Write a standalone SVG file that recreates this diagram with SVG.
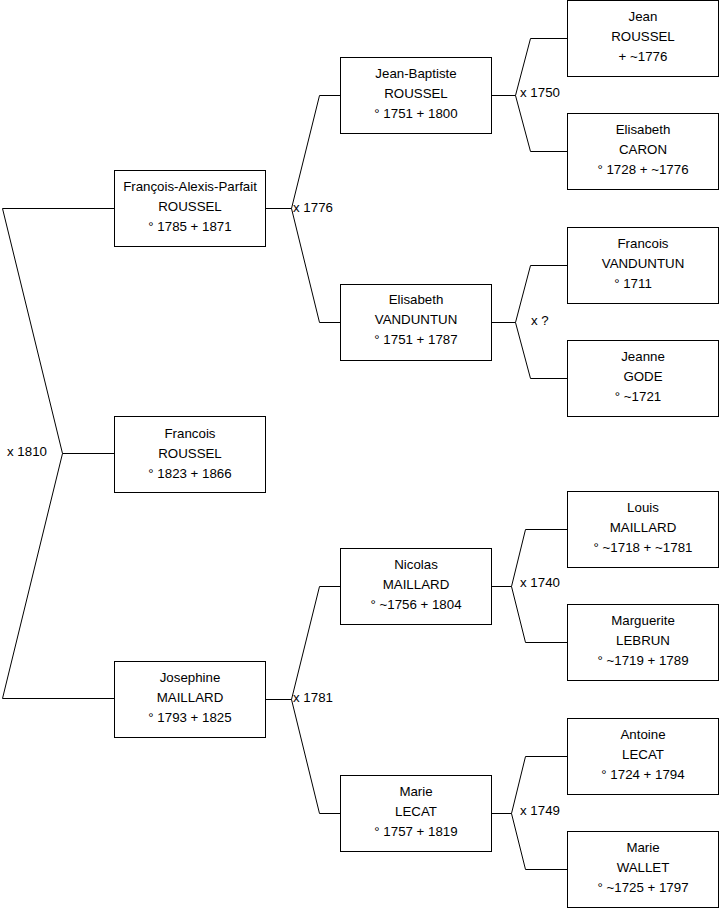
<svg xmlns="http://www.w3.org/2000/svg" width="719" height="908" viewBox="0 0 719 908">
<style>
  .box rect { fill: #ffffff; stroke: #000000; stroke-width: 1; }
  .box text { font-family: "Liberation Sans", Arial, sans-serif; font-size: 13.3px; fill: #000000; text-anchor: middle; }
  .conn path { fill: none; stroke: #000000; stroke-width: 1; }
  .lbl { font-family: "Liberation Sans", Arial, sans-serif; font-size: 13.3px; fill: #000000; }
</style>
<rect x="0" y="0" width="719" height="908" fill="#ffffff"/>
<g id="connectors" class="conn">
  <path d="M114.5,208.5 H2.5 L62.5,453.5 L2.5,698.5 H114.5"/>
  <path d="M62.5,453.5 H114.5"/>
  <path d="M265.5,208.5 H291.5 M340.5,95.5 H319.5 L291.5,208.5 L319.5,322.5 H340.5"/>
  <path d="M265.5,699.5 H291.5 M340.5,586.5 H319.5 L291.5,699.5 L319.5,813.5 H340.5"/>
  <path d="M491.5,95.5 H515.5 M567.5,38.5 H530.5 L515.5,95.5 L530.5,151.5 H567.5"/>
  <path d="M491.5,322.5 H515.5 M567.5,265.5 H530.5 L515.5,322.5 L530.5,378.5 H567.5"/>
  <path d="M491.5,586.5 H511.5 M567.5,529.5 H525.5 L511.5,586.5 L525.5,642.5 H567.5"/>
  <path d="M491.5,813.5 H511.5 M567.5,756.5 H525.5 L511.5,813.5 L525.5,869.5 H567.5"/>
</g>
<g id="labels">
  <text class="lbl" x="7" y="455.5">x 1810</text>
  <text class="lbl" x="293" y="211.5">x 1776</text>
  <text class="lbl" x="293" y="701.5">x 1781</text>
  <text class="lbl" x="520" y="96.5">x 1750</text>
  <text class="lbl" x="531" y="324.5">x ?</text>
  <text class="lbl" x="520" y="586.5">x 1740</text>
  <text class="lbl" x="520" y="814.5">x 1749</text>
</g>
<g id="n_fap" class="box"><rect x="114.5" y="170.5" width="151" height="76"/>
  <text x="190" y="190.5">François-Alexis-Parfait</text><text x="190" y="210.5">ROUSSEL</text><text x="190" y="230.5">° 1785 + 1871</text></g>
<g id="n_fr" class="box"><rect x="114.5" y="416.5" width="151" height="76"/>
  <text x="190" y="437.5">Francois</text><text x="190" y="457.5">ROUSSEL</text><text x="190" y="477.5">° 1823 + 1866</text></g>
<g id="n_jm" class="box"><rect x="114.5" y="661.5" width="151" height="76"/>
  <text x="190" y="681.5">Josephine</text><text x="190" y="701.5">MAILLARD</text><text x="190" y="721.5">° 1793 + 1825</text></g>
<g id="n_jb" class="box"><rect x="340.5" y="57.5" width="151" height="76"/>
  <text x="416" y="77.5">Jean-Baptiste</text><text x="416" y="97.5">ROUSSEL</text><text x="416" y="117.5">° 1751 + 1800</text></g>
<g id="n_ev" class="box"><rect x="340.5" y="284.5" width="151" height="76"/>
  <text x="416" y="303.5">Elisabeth</text><text x="416" y="323.5">VANDUNTUN</text><text x="416" y="343.5">° 1751 + 1787</text></g>
<g id="n_nm" class="box"><rect x="340.5" y="548.5" width="151" height="76"/>
  <text x="416" y="568.5">Nicolas</text><text x="416" y="588.5">MAILLARD</text><text x="416" y="608.5">° ~1756 + 1804</text></g>
<g id="n_ml" class="box"><rect x="340.5" y="775.5" width="151" height="76"/>
  <text x="416" y="795.5">Marie</text><text x="416" y="815.5">LECAT</text><text x="416" y="835.5">° 1757 + 1819</text></g>
<g id="n_jr" class="box"><rect x="567.5" y="0.5" width="151" height="76"/>
  <text x="643" y="20.5">Jean</text><text x="643" y="40.5">ROUSSEL</text><text x="643" y="60.5">+ ~1776</text></g>
<g id="n_ec" class="box"><rect x="567.5" y="113.5" width="151" height="76"/>
  <text x="643" y="133.5">Elisabeth</text><text x="643" y="153.5">CARON</text><text x="643" y="173.5">° 1728 + ~1776</text></g>
<g id="n_fv" class="box"><rect x="567.5" y="227.5" width="151" height="76"/>
  <text x="643" y="247.5">Francois</text><text x="643" y="267.5">VANDUNTUN</text><text x="633" y="287.5">° 1711</text></g>
<g id="n_jg" class="box"><rect x="567.5" y="340.5" width="151" height="76"/>
  <text x="643" y="360.5">Jeanne</text><text x="643" y="380.5">GODE</text><text x="638" y="400.5">° ~1721</text></g>
<g id="n_lm" class="box"><rect x="567.5" y="491.5" width="151" height="76"/>
  <text x="643" y="511.5">Louis</text><text x="643" y="531.5">MAILLARD</text><text x="643" y="551.5">° ~1718 + ~1781</text></g>
<g id="n_mlb" class="box"><rect x="567.5" y="604.5" width="151" height="76"/>
  <text x="643" y="624.5">Marguerite</text><text x="643" y="644.5">LEBRUN</text><text x="643" y="664.5">° ~1719 + 1789</text></g>
<g id="n_al" class="box"><rect x="567.5" y="718.5" width="151" height="76"/>
  <text x="643" y="738.5">Antoine</text><text x="643" y="758.5">LECAT</text><text x="643" y="778.5">° 1724 + 1794</text></g>
<g id="n_mw" class="box"><rect x="567.5" y="831.5" width="151" height="76"/>
  <text x="643" y="851.5">Marie</text><text x="643" y="871.5">WALLET</text><text x="643" y="891.5">° ~1725 + 1797</text></g>
</svg>
